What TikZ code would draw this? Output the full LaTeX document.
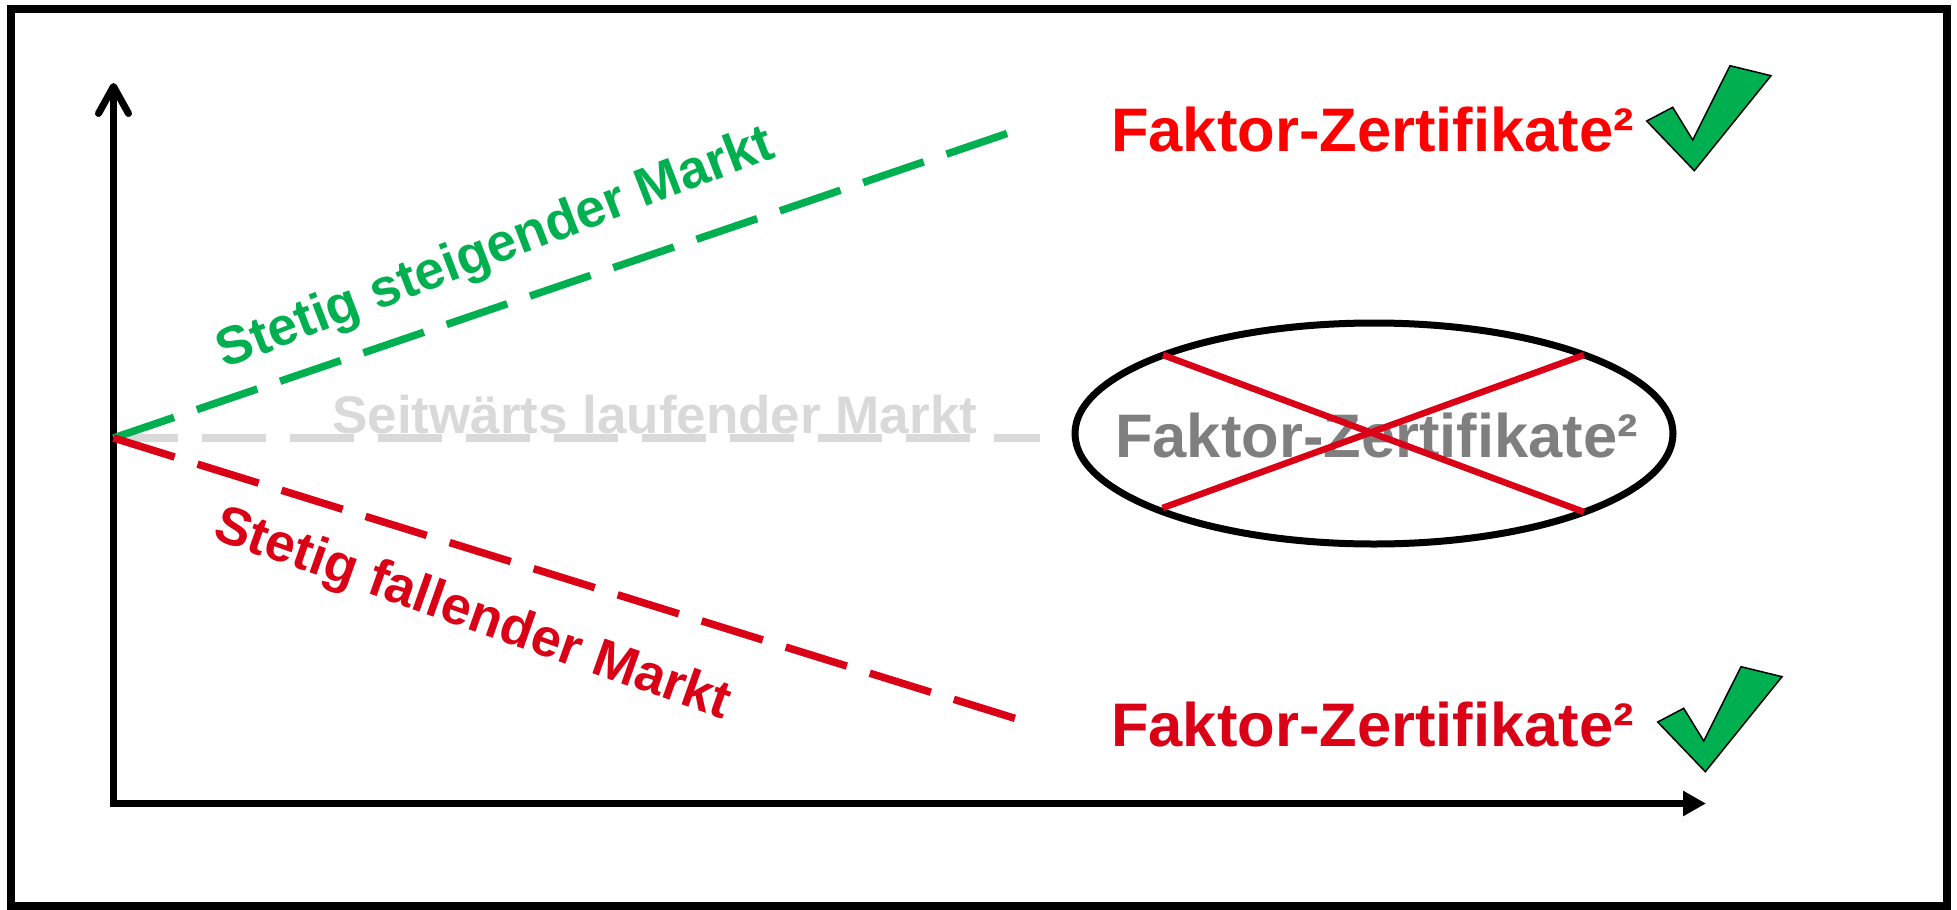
\documentclass[tikz,border=0pt]{standalone}
\usepackage{fontspec}
\setmainfont{Liberation Sans}
\usetikzlibrary{arrows.meta,shapes.geometric}
\definecolor{upgreen}{RGB}{0,176,80}
\definecolor{brightred}{RGB}{255,0,0}
\definecolor{downred}{RGB}{218,0,22}
\definecolor{midgray}{RGB}{127,127,127}
\definecolor{palegray}{RGB}{217,217,217}
\begin{document}
\begin{tikzpicture}[x=1pt,y=-1pt,
  trend/.style={line width=7.5pt, dash pattern=on 64pt off 24pt},
  bigtext/.style={font=\fontsize{61.5}{70}\selectfont\bfseries, inner sep=0pt, anchor=base west},
  labeltext/.style={font=\fontsize{53.5}{60}\selectfont\bfseries, inner sep=0pt},
  tick/.style={fill=upgreen, draw=black, line width=1.5pt, line join=miter},
  cross/.style={draw=downred, line width=6.5pt}]

\useasboundingbox (0,0) rectangle (1957,910);

% outer frame
\draw[line width=7.5pt] (11,9) rectangle (1947,906);

% axes
\coordinate (ytip) at (113.5,83);
\coordinate (corner) at (113.5,803.5);
\coordinate (xtip) at (1706,803.5);
\draw[line width=7pt,
  {Straight Barb[length=27pt,width=30pt,round]}-{Triangle[length=23pt,width=24pt]}]
  (ytip) -- (corner) -- (xtip);

% market trends
\coordinate (origin) at (113.5,438);
\coordinate (upend) at (1007,133.5);
\coordinate (downend) at (1017,719);
\coordinate (sideend) at (1040,438);
\draw[trend, palegray] (origin) -- (sideend);
\draw[trend, upgreen] (origin) -- (upend);
\draw[trend, downred] (origin) -- (downend);

\node[labeltext, text=upgreen, rotate=21] (uplabel) at (496,250) {Stetig steigender Markt};
\node[labeltext, text=downred, rotate=-19.5] (downlabel) at (472,616) {Stetig fallender Markt};
\node[labeltext, font=\fontsize{53}{60}\selectfont\bfseries, text=palegray, anchor=base west] (sidelabel) at (332,433) {Seitwärts laufender Markt};

% products per scenario
\node[bigtext, text=brightred] (uptext) at (1111,151) {Faktor-Zertifikate²};
\node[bigtext, text=downred] (downtext) at (1111,746) {Faktor-Zertifikate²};

\node[draw, line width=7pt, ellipse, minimum width=598pt, minimum height=221pt, inner sep=0pt] (oval) at (1374,433.5) {};
\node[bigtext, text=midgray] (sidetext) at (1115,457) {Faktor-Zertifikate²};
\coordinate (xa) at (1163,355);
\coordinate (xb) at (1584,512);
\coordinate (xc) at (1162.5,508);
\coordinate (xd) at (1584,355);
\draw[cross] (xa) -- (xb);
\draw[cross] (xc) -- (xd);

% check marks
\draw[tick] (1646.7,121) -- (1672.7,107.3) -- (1692.7,140) -- (1730,65.7)
  -- (1771,75.7) -- (1694.3,170.7) -- cycle;
\draw[tick] (1657.7,722) -- (1683.7,708.3) -- (1703.7,741) -- (1741,666.7)
  -- (1782,676.7) -- (1705.3,771.7) -- cycle;
\end{tikzpicture}
\end{document}
